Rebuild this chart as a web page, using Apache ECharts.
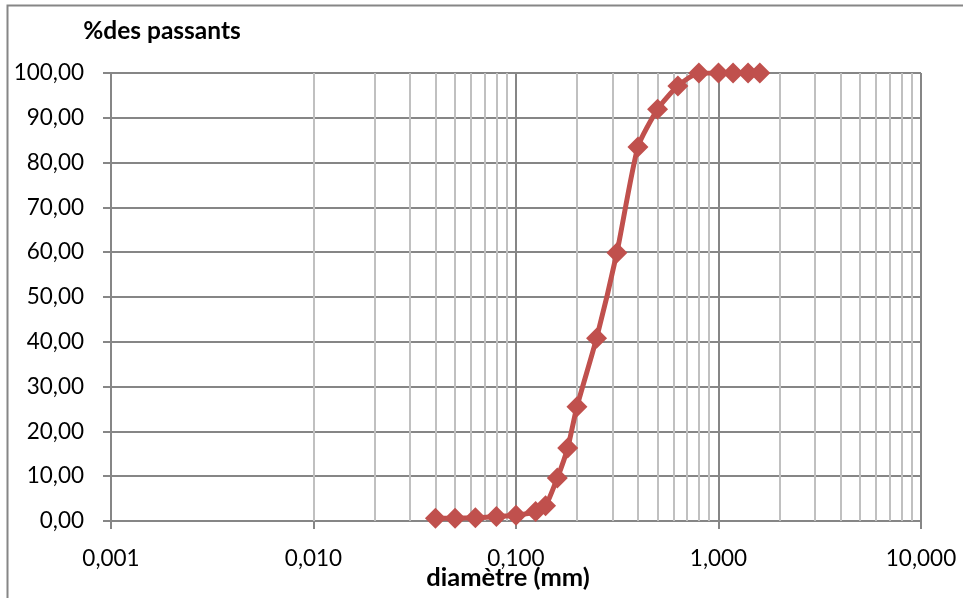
<!DOCTYPE html>
<html><head><meta charset="utf-8">
<script src="https://cdn.jsdelivr.net/npm/echarts@6/dist/echarts.min.js"></script>
<style>html,body{margin:0;padding:0;background:#fff}#c{width:963px;height:598px}</style>
</head><body><div id="c"></div>
<script>
var diameters = [0.04,0.05,0.063,0.08,0.1,0.125,0.14,0.16,0.18,0.2,0.25,0.315,0.4,0.5,0.63,0.8,1,1.18,1.4,1.6];
var passants  = [0.6,0.6,0.7,1.0,1.3,2.1,3.4,9.6,16.3,25.5,40.8,59.9,83.5,91.9,97.1,100,100,100,100,100];
var yTitle = '%des passants';
var xTitle = 'diamètre (mm)';
var decades = [0.001,0.01,0.1,1];

var minor = [];
decades.forEach(function(d){ for (var k=2;k<=9;k++) minor.push({xAxis: +(d*k).toPrecision(3)}); });

var chart = echarts.init(document.getElementById('c'));
var FONT = 'Lato';
chart.setOption({
  animation:false,
  textStyle:{fontFamily:FONT},
  graphic:[
    {type:'rect', shape:{x:7.5,y:5.5,width:970,height:610}, style:{fill:null,stroke:'#868686',lineWidth:2}, silent:true},
    {type:'text', x:162, y:31, style:{text:yTitle, font:'bold 24.5px '+FONT, fill:'#000', align:'center', verticalAlign:'middle'}},
    {type:'text', x:508, y:578, style:{text:xTitle, font:'bold 25.5px '+FONT, fill:'#000', align:'center', verticalAlign:'middle'}}
  ],
  grid:{left:111, right:42, top:73, bottom:77, containLabel:false},
  xAxis:{type:'log', logBase:10, min:0.001, max:10,
    axisLine:{show:true, lineStyle:{color:'#868686', width:2}},
    axisTick:{show:true, length:8, lineStyle:{color:'#868686', width:2}},
    axisLabel:{margin:26, fontSize:22.5, color:'#000', fontFamily:FONT,
      formatter:function(v){return (+v).toFixed(3).replace('.',',');}},
    splitLine:{show:true, lineStyle:{color:'#868686', width:2}},
    minorTick:{show:false}, minorSplitLine:{show:false}
  },
  yAxis:{type:'value', min:0, max:100, interval:10,
    axisLine:{show:true, lineStyle:{color:'#868686', width:2}},
    axisTick:{show:true, length:8, lineStyle:{color:'#868686', width:2}},
    axisLabel:{margin:27, fontSize:22.5, color:'#000', fontFamily:FONT,
      formatter:function(v){return v.toFixed(2).replace('.',',');}},
    splitLine:{show:true, lineStyle:{color:'#868686', width:2}}
  },
  series:[{
    type:'line', smooth:0.2,
    data: diameters.map(function(d,i){return [d, passants[i]];}),
    symbol:'diamond', symbolSize:21,
    itemStyle:{color:'#C0504D'},
    lineStyle:{color:'#C0504D', width:5},
    z:5,
    markLine:{silent:true, symbol:'none', label:{show:false}, animation:false,
      lineStyle:{color:'#c0c0c0', width:2, type:'solid'},
      data:minor, z:1}
  }]
});
</script></body></html>
